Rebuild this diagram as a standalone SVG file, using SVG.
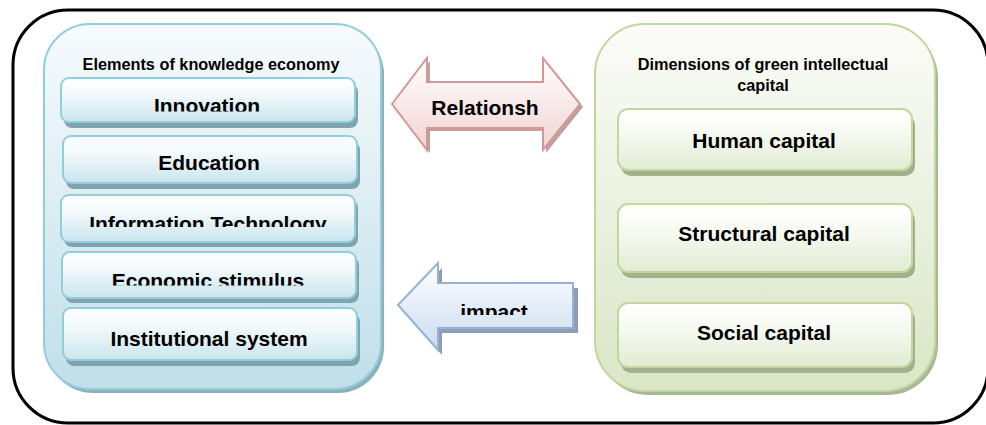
<svg xmlns="http://www.w3.org/2000/svg" width="986" height="425" viewBox="0 0 986 425">
  <defs>
    <linearGradient id="gBluePanel" x1="0" y1="0" x2="0" y2="1">
      <stop offset="0" stop-color="#f7fbfd"/>
      <stop offset="1" stop-color="#c0dfe9"/>
    </linearGradient>
    <linearGradient id="gGreenPanel" x1="0" y1="0" x2="0" y2="1">
      <stop offset="0" stop-color="#fbfcf8"/>
      <stop offset="1" stop-color="#dae6c6"/>
    </linearGradient>
    <linearGradient id="gBlueBox" x1="0" y1="0" x2="0" y2="1">
      <stop offset="0" stop-color="#ffffff"/>
      <stop offset="0.35" stop-color="#f4fafc"/>
      <stop offset="1" stop-color="#c9e5ee"/>
    </linearGradient>
    <linearGradient id="gGreenBox" x1="0" y1="0" x2="0" y2="1">
      <stop offset="0" stop-color="#ffffff"/>
      <stop offset="0.35" stop-color="#f8fbf4"/>
      <stop offset="1" stop-color="#e1ebd2"/>
    </linearGradient>
    <linearGradient id="gPink" x1="0" y1="0" x2="0" y2="1">
      <stop offset="0" stop-color="#ffffff"/>
      <stop offset="1" stop-color="#f1d3d2"/>
    </linearGradient>
    <linearGradient id="gSky" x1="0" y1="0" x2="0" y2="1">
      <stop offset="0" stop-color="#ffffff"/>
      <stop offset="1" stop-color="#cadbf0"/>
    </linearGradient>
    <clipPath id="clipInnovation"><rect x="0" y="0" width="986" height="111.5"/></clipPath>
    <clipPath id="clipInfoTech"><rect x="0" y="0" width="986" height="227"/></clipPath>
    <clipPath id="clipEconomic"><rect x="0" y="0" width="986" height="285.5"/></clipPath>
    <clipPath id="clipImpact"><rect x="0" y="0" width="986" height="315"/></clipPath>
    <style>
      .frame { fill: none; stroke: #000; stroke-width: 3; }
      .panelBlue { fill: url(#gBluePanel); stroke: #93cddc; stroke-width: 2; }
      .panelGreen { fill: url(#gGreenPanel); stroke: #c3d69b; stroke-width: 2; }
      .shadeBluePanel { fill: #8fb0b8; }
      .shadeGreenPanel { fill: #a9b89a; }
      .boxBlue { fill: url(#gBlueBox); stroke: #93cddc; stroke-width: 2; }
      .boxGreen { fill: url(#gGreenBox); stroke: #c3d69b; stroke-width: 2; }
      .shadeBlue { fill: #7ea5af; }
      .shadeGreen { fill: #a2b18d; }
      .title { font-family: "Liberation Sans", Arial, sans-serif; font-weight: bold; font-size: 16.3px; fill: #000; text-anchor: middle; }
      .lbl { font-family: "Liberation Sans", Arial, sans-serif; font-weight: bold; font-size: 21px; fill: #000; text-anchor: middle; }
      .lblR { font-family: "Liberation Sans", Arial, sans-serif; font-weight: bold; font-size: 21px; fill: #000; text-anchor: middle; }
      .arrowPink { fill: url(#gPink); stroke: #d99694; stroke-width: 2; stroke-linejoin: miter; }
      .arrowBlue { fill: url(#gSky); stroke: #95b3d7; stroke-width: 2; stroke-linejoin: miter; }
      .shadePink { fill: #b9a2a2; }
      .shadeSky { fill: #8e9db2; }
    </style>
  </defs>

  <!-- outer rounded frame, running off the right edge -->
  <rect class="frame" x="13" y="10" width="975" height="413" rx="55" ry="55"/>

  <!-- left panel: elements of knowledge economy -->
  <g id="panel-knowledge-economy">
    <rect class="shadeBluePanel" x="47" y="28" width="337" height="365" rx="46" ry="46"/>
    <rect class="panelBlue" x="44" y="24" width="337" height="365" rx="46" ry="46"/>
    <text class="title" x="211" y="70">Elements of knowledge economy</text>
  </g>

  <g id="node-innovation">
    <rect class="shadeBlue" x="64" y="84" width="294" height="44" rx="8"/>
    <rect class="boxBlue" x="61" y="78" width="294" height="44" rx="8"/>
    <text class="lbl" x="207" y="113" clip-path="url(#clipInnovation)">Innovation</text>
  </g>
  <g id="node-education">
    <rect class="shadeBlue" x="66" y="142" width="294" height="47" rx="8"/>
    <rect class="boxBlue" x="63" y="136" width="294" height="47" rx="8"/>
    <text class="lbl" x="209" y="170">Education</text>
  </g>
  <g id="node-information-technology">
    <rect class="shadeBlue" x="64" y="200" width="294" height="47" rx="8"/>
    <rect class="boxBlue" x="61" y="195" width="294" height="47" rx="8"/>
    <text class="lbl" x="208" y="231" clip-path="url(#clipInfoTech)">Information Technology</text>
  </g>
  <g id="node-economic-stimulus">
    <rect class="shadeBlue" x="65" y="257" width="294" height="46" rx="8"/>
    <rect class="boxBlue" x="62" y="252" width="294" height="46" rx="8"/>
    <text class="lbl" x="208" y="288" clip-path="url(#clipEconomic)">Economic stimulus</text>
  </g>
  <g id="node-institutional-system">
    <rect class="shadeBlue" x="66" y="314" width="294" height="52" rx="8"/>
    <rect class="boxBlue" x="63" y="308" width="294" height="52" rx="8"/>
    <text class="lbl" x="209" y="346">Institutional system</text>
  </g>

  <!-- right panel: dimensions of green intellectual capital -->
  <g id="panel-green-capital">
    <rect class="shadeGreenPanel" x="598" y="28" width="340" height="367" rx="50" ry="50"/>
    <rect class="panelGreen" x="595" y="24" width="340" height="367" rx="50" ry="50"/>
    <text class="title" x="763" y="70">Dimensions of green intellectual</text>
    <text class="title" x="763" y="91">capital</text>
  </g>

  <g id="node-human-capital">
    <rect class="shadeGreen" x="621" y="115" width="294" height="61" rx="10"/>
    <rect class="boxGreen" x="618" y="109" width="294" height="61" rx="10"/>
    <text class="lblR" x="764" y="148">Human capital</text>
  </g>
  <g id="node-structural-capital">
    <rect class="shadeGreen" x="621" y="210" width="294" height="68" rx="10"/>
    <rect class="boxGreen" x="618" y="204" width="294" height="68" rx="10"/>
    <text class="lblR" x="764" y="241">Structural capital</text>
  </g>
  <g id="node-social-capital">
    <rect class="shadeGreen" x="621" y="309" width="294" height="64" rx="10"/>
    <rect class="boxGreen" x="618" y="303" width="294" height="64" rx="10"/>
    <text class="lblR" x="764" y="340">Social capital</text>
  </g>

  <!-- block arrows between the panels -->
  <g id="connectors">
    <g id="arrow-relationship">
      <path class="shadePink" d="M395,107 L430,61 L430,85 L546,85 L546,61 L583,107 L546,153 L546,131 L430,131 L430,153 Z"/>
      <path class="arrowPink" d="M392,104 L427,58 L427,82 L543,82 L543,58 L580,104 L543,150 L543,128 L427,128 L427,150 Z"/>
      <text class="lbl" x="485" y="115">Relationsh</text>
    </g>
    <g id="arrow-impact">
      <path class="shadeSky" d="M402,310 L442,268 L442,288 L578,288 L578,333 L442,333 L442,355 Z"/>
      <path class="arrowBlue" d="M398,305 L438,263 L438,283 L573,283 L573,328 L438,328 L438,350 Z"/>
      <text class="lbl" x="494" y="319" clip-path="url(#clipImpact)">impact</text>
    </g>
  </g>
</svg>
